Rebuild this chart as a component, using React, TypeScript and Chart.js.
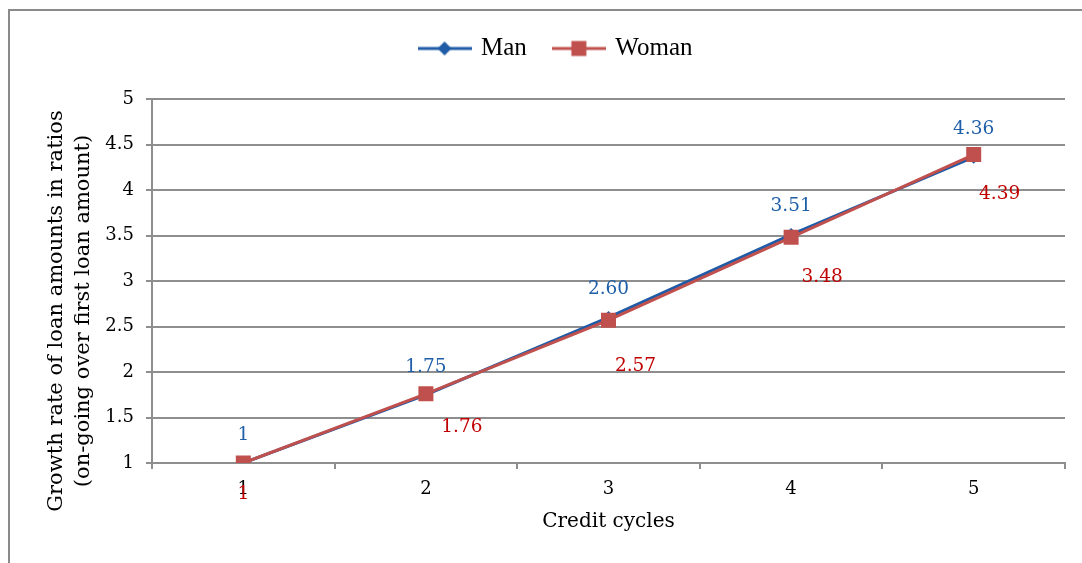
import React, { useEffect, useRef } from "react";
import { Chart, registerables } from "chart.js";

Chart.register(...registerables);

const categories = ["1", "2", "3", "4", "5"];
const manValues = [1, 1.75, 2.6, 3.51, 4.36];
const womanValues = [1, 1.76, 2.57, 3.48, 4.39];
const yTickMin = 1;
const yTickMax = 5;
const yTickStep = 0.5;
const seriesNames = ["Man", "Woman"];
const yTitleLines = ["Growth rate of loan amounts in ratios", "(on-going over first loan amount)"];
const xTitle = "Credit cycles";

const MAN_COLOR = "#1f5ba6";
const WOMAN_COLOR = "#c0504d";
const MAN_LABEL_COLOR = "#1f5fa8";
const WOMAN_LABEL_COLOR = "#c00000";
const GRID_COLOR = "#8e8e8e";
const SERIF = "'DejaVu Serif', serif";

// label offsets (pixels) relative to each point, per series
const labelOffsets = [
  [[0, -28], [0, -28], [0, -28], [0, -28], [0, -28]],
  [[0, 31], [36, 33], [27, 46], [31, 40], [26, 40]],
];
const labelColors = [MAN_LABEL_COLOR, WOMAN_LABEL_COLOR];

const fmt = (v: number) => (v === 1 ? "1" : v.toFixed(2));

function makeLegendImage(color: string, style: "diamond" | "square") {
  const c = document.createElement("canvas");
  c.width = 54;
  c.height = 22;
  const g = c.getContext("2d")!;
  g.strokeStyle = color;
  g.lineWidth = 3;
  g.beginPath();
  g.moveTo(0, 11);
  g.lineTo(54, 11);
  g.stroke();
  g.fillStyle = color;
  if (style === "diamond") {
    g.beginPath();
    g.moveTo(27, 4);
    g.lineTo(34, 11);
    g.lineTo(27, 18);
    g.lineTo(20, 11);
    g.closePath();
    g.fill();
  } else {
    g.fillRect(19.5, 3.5, 15, 15);
  }
  return c;
}

export default function App() {
  const ref = useRef<HTMLCanvasElement>(null);

  useEffect(() => {
    if (!ref.current) return;
    const legendImgs = [makeLegendImage(MAN_COLOR, "diamond"), makeLegendImage(WOMAN_COLOR, "square")];

    const labelPlugin = {
      id: "pointValueLabels",
      afterDatasetsDraw(chart: any) {
        const ctx = chart.ctx;
        ctx.save();
        ctx.font = `18.5px ${SERIF}`;
        ctx.textAlign = "center";
        ctx.textBaseline = "middle";
        chart.data.datasets.forEach((ds: any, i: number) => {
          const meta = chart.getDatasetMeta(i);
          ctx.fillStyle = labelColors[i];
          meta.data.forEach((el: any, j: number) => {
            const [dx, dy] = labelOffsets[i][j];
            ctx.fillText(fmt(ds.data[j]), el.x + dx, el.y + dy);
          });
        });
        ctx.restore();
      },
    };

    const yTitlePlugin = {
      id: "yTitle",
      afterDraw(chart: any) {
        const ctx = chart.ctx;
        ctx.save();
        ctx.font = `21px ${SERIF}`;
        ctx.fillStyle = "#000";
        ctx.textAlign = "center";
        ctx.textBaseline = "middle";
        const xs = [57, 84];
        yTitleLines.forEach((t, k) => {
          ctx.save();
          ctx.translate(xs[k], 311);
          ctx.rotate(-Math.PI / 2);
          ctx.fillText(t, 0, 0);
          ctx.restore();
        });
        ctx.restore();
      },
    };

    const legendSpacePlugin = {
      id: "legendSpace",
      beforeLayout(chart: any) {
        const lg = chart.legend;
        if (lg && !lg._extraSpace) {
          const orig = lg.fit.bind(lg);
          lg.fit = () => {
            orig();
            lg.height += 28;
          };
          lg._extraSpace = true;
        }
      },
    };

    const chart = new Chart(ref.current, {
      type: "line",
      data: {
        labels: categories,
        datasets: [
          {
            label: seriesNames[0],
            data: manValues,
            borderColor: MAN_COLOR,
            backgroundColor: MAN_COLOR,
            borderWidth: 3,
            pointStyle: "rectRot",
            pointRadius: 6.5,
            pointBorderWidth: 0,
            tension: 0,
            order: 1,
          },
          {
            label: seriesNames[1],
            data: womanValues,
            borderColor: WOMAN_COLOR,
            backgroundColor: WOMAN_COLOR,
            borderWidth: 3,
            pointStyle: "rect",
            pointRadius: 10.6,
            pointBorderWidth: 0,
            tension: 0,
            order: 0,
          },
        ],
      },
      options: {
        animation: false,
        responsive: true,
        maintainAspectRatio: false,
        layout: { padding: { left: 48, right: 17, top: 8, bottom: 0 } },
        plugins: {
          tooltip: { enabled: false },
          legend: {
            display: true,
            position: "top",
            labels: {
              usePointStyle: true,
              pointStyleWidth: 48,
              padding: 28,
              color: "#000",
              font: { family: "'Liberation Serif', serif", size: 25 },
              generateLabels: () =>
                seriesNames.map((n, i) => ({
                  text: n,
                  datasetIndex: i,
                  pointStyle: legendImgs[i] as any,
                  fillStyle: i === 0 ? MAN_COLOR : WOMAN_COLOR,
                  strokeStyle: i === 0 ? MAN_COLOR : WOMAN_COLOR,
                  lineWidth: 0,
                  hidden: false,
                  fontColor: "#000",
                })),
            },
          },
        },
        scales: {
          x: {
            type: "category",
            offset: true,
            afterFit: (s: any) => {
              s.height = 100;
            },
            grid: {
              offset: true,
              drawOnChartArea: false,
              drawTicks: true,
              tickLength: 6,
              color: GRID_COLOR,
              lineWidth: 2,
            },
            border: { display: true, color: GRID_COLOR, width: 2 },
            ticks: {
              color: "#000",
              padding: 10,
              font: { family: SERIF, size: 18 },
            },
            title: {
              display: true,
              text: xTitle,
              color: "#000",
              font: { family: SERIF, size: 20 },
              padding: { top: 0, bottom: 29 },
            },
          },
          y: {
            type: "linear",
            min: yTickMin,
            max: yTickMax,
            afterFit: (s: any) => {
              s.width = 104;
            },
            ticks: {
              stepSize: yTickStep,
              color: "#000",
              padding: 12,
              font: { family: SERIF, size: 18 },
              callback: (v: any) => String(v),
            },
            grid: {
              color: GRID_COLOR,
              lineWidth: 2,
              tickLength: 6,
              drawTicks: true,
            },
            border: { display: true, color: GRID_COLOR, width: 2 },
          },
        },
      },
      plugins: [labelPlugin, yTitlePlugin, legendSpacePlugin],
    });
    return () => chart.destroy();
  }, []);

  return (
    <div
      style={{
        position: "fixed",
        left: 0,
        top: 0,
        width: 1082,
        height: 563,
        background: "#fff",
        overflow: "hidden",
      }}
    >
      <div
        style={{
          position: "absolute",
          left: 8,
          top: 9,
          width: 1200,
          height: 700,
          borderLeft: "2px solid #8a8a8a",
          borderTop: "2px solid #8a8a8a",
          pointerEvents: "none",
        }}
      />
      <canvas ref={ref} style={{ position: "absolute", left: 0, top: 0, width: 1082, height: 563 }} />
    </div>
  );
}
